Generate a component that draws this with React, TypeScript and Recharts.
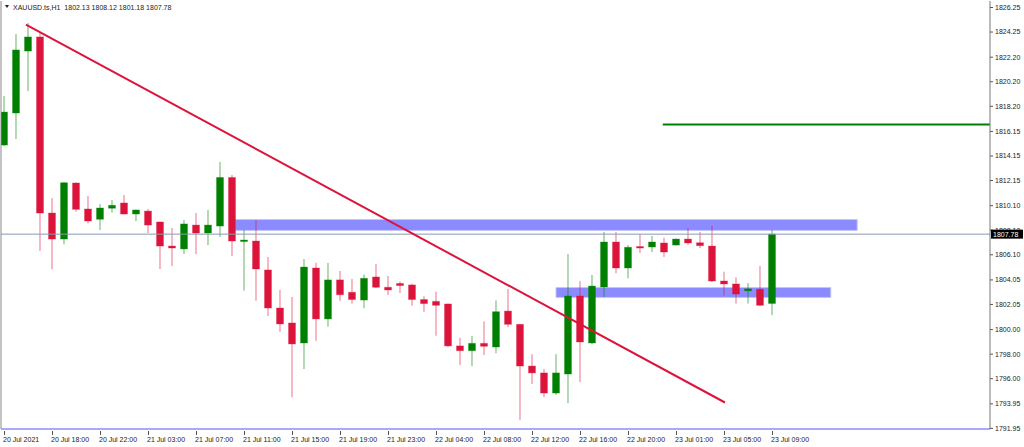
import React from "react";
import { ComposedChart, Bar, XAxis, YAxis, ReferenceLine, ReferenceArea } from "recharts";

const times = [
  "20 Jul 14:00", "20 Jul 15:00", "20 Jul 16:00", "20 Jul 17:00", "20 Jul 18:00", "20 Jul 19:00", "20 Jul 20:00", "20 Jul 21:00", "20 Jul 22:00", "20 Jul 23:00",
  "21 Jul 01:00", "21 Jul 02:00", "21 Jul 03:00", "21 Jul 04:00", "21 Jul 05:00", "21 Jul 06:00", "21 Jul 07:00", "21 Jul 08:00", "21 Jul 09:00", "21 Jul 10:00",
  "21 Jul 11:00", "21 Jul 12:00", "21 Jul 13:00", "21 Jul 14:00", "21 Jul 15:00", "21 Jul 16:00", "21 Jul 17:00", "21 Jul 18:00", "21 Jul 19:00", "21 Jul 20:00",
  "21 Jul 21:00", "21 Jul 22:00", "21 Jul 23:00", "22 Jul 01:00", "22 Jul 02:00", "22 Jul 03:00", "22 Jul 04:00", "22 Jul 05:00", "22 Jul 06:00", "22 Jul 07:00",
  "22 Jul 08:00", "22 Jul 09:00", "22 Jul 10:00", "22 Jul 11:00", "22 Jul 12:00", "22 Jul 13:00", "22 Jul 14:00", "22 Jul 15:00", "22 Jul 16:00", "22 Jul 17:00",
  "22 Jul 18:00", "22 Jul 19:00", "22 Jul 20:00", "22 Jul 21:00", "22 Jul 22:00", "22 Jul 23:00", "23 Jul 01:00", "23 Jul 02:00", "23 Jul 03:00", "23 Jul 04:00",
  "23 Jul 05:00", "23 Jul 06:00", "23 Jul 07:00", "23 Jul 08:00", "23 Jul 09:00",
];

const opens = [
  1815.04, 1817.65, 1822.70, 1823.85, 1809.50, 1807.38, 1811.95, 1809.83, 1808.99, 1809.89,
  1810.32, 1809.42, 1809.66, 1808.77, 1806.81, 1806.57, 1808.52, 1807.87, 1808.44, 1812.40,
  1807.22, 1807.22, 1804.86, 1801.76, 1800.54, 1798.91, 1805.02, 1800.87, 1804.05, 1803.04,
  1802.41, 1804.29, 1803.45, 1803.76, 1803.64, 1802.45, 1802.30, 1802.09, 1798.67, 1798.28,
  1798.88, 1798.58, 1801.51, 1800.43, 1797.03, 1796.47, 1794.83, 1796.38, 1802.74, 1798.91,
  1803.47, 1807.14, 1805.02, 1806.77, 1806.73, 1807.06, 1806.89, 1807.38, 1807.08, 1806.81,
  1803.96, 1803.72, 1803.16, 1803.28, 1802.13,
];
const highs = [
  1819.04, 1824.09, 1824.99, 1824.17, 1810.72, 1812.03, 1811.99, 1810.89, 1810.23, 1810.56,
  1810.97, 1809.79, 1809.83, 1808.81, 1808.28, 1808.93, 1809.50, 1809.75, 1813.66, 1812.60,
  1808.12, 1808.93, 1805.92, 1803.23, 1802.66, 1805.75, 1805.45, 1805.43, 1804.78, 1804.13,
  1804.50, 1805.35, 1804.37, 1803.92, 1803.74, 1802.72, 1803.09, 1802.13, 1799.34, 1799.48,
  1800.66, 1802.38, 1803.31, 1800.43, 1797.99, 1796.79, 1798.00, 1806.16, 1803.96, 1804.45,
  1807.96, 1807.96, 1806.89, 1807.79, 1807.63, 1807.49, 1807.42, 1808.28, 1807.96, 1808.44,
  1804.72, 1804.26, 1803.79, 1805.18, 1808.12,
];
const lows = [
  1814.96, 1815.53, 1819.45, 1806.41, 1804.91, 1806.95, 1809.61, 1808.66, 1808.12, 1809.53,
  1809.38, 1808.85, 1807.87, 1804.94, 1805.18, 1806.16, 1806.16, 1806.89, 1807.54, 1805.99,
  1803.17, 1802.35, 1801.11, 1799.80, 1794.49, 1796.79, 1799.09, 1800.24, 1802.35, 1802.12,
  1801.74, 1803.39, 1802.82, 1802.98, 1801.95, 1801.44, 1799.50, 1798.58, 1797.11, 1797.03,
  1797.93, 1798.07, 1800.19, 1792.64, 1795.57, 1794.50, 1794.67, 1794.01, 1795.73, 1798.83,
  1802.66, 1804.59, 1804.18, 1806.24, 1806.32, 1805.92, 1806.85, 1806.89, 1806.65, 1803.88,
  1802.77, 1802.12, 1802.12, 1801.92, 1801.18,
];
const closes = [
  1817.73, 1822.79, 1823.85, 1809.50, 1807.38, 1811.97, 1809.80, 1808.85, 1809.91, 1810.13,
  1809.42, 1809.75, 1808.52, 1806.81, 1806.65, 1808.61, 1807.87, 1808.52, 1812.40, 1807.22,
  1807.30, 1804.94, 1801.76, 1800.46, 1798.83, 1805.10, 1800.87, 1804.05, 1802.84, 1802.45,
  1804.18, 1803.45, 1803.23, 1803.59, 1802.45, 1802.12, 1801.98, 1798.67, 1798.28, 1798.88,
  1798.64, 1801.46, 1800.43, 1797.03, 1796.47, 1794.83, 1796.47, 1802.74, 1798.99, 1803.55,
  1807.14, 1805.02, 1806.71, 1806.67, 1807.14, 1806.32, 1807.38, 1807.06, 1806.84, 1803.96,
  1803.72, 1802.90, 1803.32, 1801.98, 1807.78,
];

const priceTicks = [
  1826.25, 1824.25, 1822.2, 1820.2, 1818.2, 1816.15, 1814.15, 1812.15, 1810.1,
  1808.1, 1806.1, 1804.05, 1802.05, 1800.0, 1798.0, 1796.0, 1793.95, 1791.95,
];
const xTickIndex = [0, 4, 8, 12, 16, 20, 24, 28, 32, 36, 40, 44, 48, 52, 56, 60, 64];
const xTickLabels = [
  "20 Jul 2021", "20 Jul 18:00", "20 Jul 22:00", "21 Jul 03:00", "21 Jul 07:00", "21 Jul 11:00",
  "21 Jul 15:00", "21 Jul 19:00", "21 Jul 23:00", "22 Jul 04:00", "22 Jul 08:00", "22 Jul 12:00",
  "22 Jul 16:00", "22 Jul 20:00", "23 Jul 01:00", "23 Jul 05:00", "23 Jul 09:00",
];

const symbolName = "XAUUSD.ts,H1";
const resistanceZone = { x1: 19.25, x2: 71.1, y1: 1808.08, y2: 1808.97 };
const supportZone = { x1: 46, x2: 68.9, y1: 1802.62, y2: 1803.43 };
const trendLine = [{ x: 1.83, y: 1824.86 }, { x: 60.08, y: 1794.06 }];
const targetLine = { x1: 54.9, x2: 82.16, y: 1816.71 };
const xDomain = [-0.25, 82.167];
const yDomain = [1791.9, 1826.78];

const last = closes.length - 1;
const lastPrice = closes[last];

const data = times.map((t, i) => ({
  i,
  time: t,
  open: opens[i],
  high: highs[i],
  low: lows[i],
  close: closes[i],
  range: [lows[i], highs[i]],
}));

const FONT = "'Liberation Sans', Arial, sans-serif";
const UP = "#008000";
const DOWN = "#DC143C";

const Candle = (props: any) => {
  const { x, y, width, height, payload } = props;
  if (!payload) return null;
  const { open, close, high, low } = payload;
  const up = close >= open;
  const color = up ? UP : DOWN;
  const cx = x + width / 2;
  const top0 = Math.min(y, y + height);
  const h = Math.abs(height);
  const span = high - low || 1;
  const py = (v: number) => top0 + ((high - v) / span) * h;
  const bTop = py(Math.max(open, close));
  const bBot = py(Math.min(open, close));
  const bw = 7;
  return (
    <g>
      <line x1={cx + 0.5} x2={cx + 0.5} y1={top0} y2={top0 + h} stroke={color} strokeOpacity={0.6} strokeWidth={1} />
      <rect
        x={cx - bw / 2 + 0.5}
        y={bTop}
        width={bw}
        height={Math.max(bBot - bTop, 1.5)}
        fill={color}
        stroke={color}
        strokeOpacity={0.3}
        strokeWidth={1}
      />
    </g>
  );
};

const renderXTick = (p: any) => {
  const { x, y, payload } = p;
  const idx = xTickIndex.indexOf(payload.value);
  return (
    <g>
      <line x1={Math.round(x) + 0.5} x2={Math.round(x) + 0.5} y1={y + 2} y2={y + 6} stroke="#555" strokeWidth={1} />
      <text x={x - 1} y={y + 13} fontSize={7} fontFamily={FONT} fill="#222" textAnchor="start">
        {idx >= 0 ? xTickLabels[idx] : ""}
      </text>
    </g>
  );
};

const renderYTick = (p: any) => {
  const { x, y, payload } = p;
  const v = payload.value as number;
  if (v === lastPrice) {
    return (
      <g>
        <rect x={x + 1} y={y - 4.5} width={32} height={9} fill="#000" />
        <text x={x + 3} y={y} dy="0.35em" fontSize={7} fontFamily={FONT} fill="#fff" textAnchor="start">
          {v.toFixed(2)}
        </text>
      </g>
    );
  }
  return (
    <g>
      <line x1={x} x2={x + 3} y1={y} y2={y} stroke="#555" strokeWidth={1} />
      <text x={x + 5} y={y} dy="0.35em" fontSize={7} fontFamily={FONT} fill="#222" textAnchor="start">
        {v.toFixed(2)}
      </text>
    </g>
  );
};

export default function App() {
  return (
    <div style={{ position: "absolute", left: 0, top: 0, width: 1024, height: 447, background: "#fff", overflow: "hidden" }}>
      <ComposedChart width={1024} height={447} data={data} margin={{ top: 1, right: 0, bottom: 0, left: 1 }}>
        <XAxis
          type="number"
          dataKey="i"
          domain={xDomain}
          allowDataOverflow
          ticks={xTickIndex}
          interval={0}
          tick={renderXTick}
          tickLine={false}
          tickSize={0}
          tickMargin={0}
          axisLine={{ stroke: "#8c8cff", strokeWidth: 1.5 }}
          height={18}
        />
        <YAxis
          type="number"
          orientation="right"
          domain={yDomain}
          allowDataOverflow
          ticks={[...priceTicks, lastPrice]}
          interval={0}
          tick={renderYTick}
          tickLine={false}
          tickSize={0}
          tickMargin={0}
          axisLine={{ stroke: "#777" }}
          width={34}
        />
        <ReferenceArea
          x1={resistanceZone.x1}
          x2={resistanceZone.x2}
          y1={resistanceZone.y1}
          y2={resistanceZone.y2}
          fill="#8b8bff"
          fillOpacity={1}
          stroke="#c4c4ff"
          strokeWidth={1}
        />
        <ReferenceArea
          x1={supportZone.x1}
          x2={supportZone.x2}
          y1={supportZone.y1}
          y2={supportZone.y2}
          fill="#8b8bff"
          fillOpacity={1}
          stroke="#c4c4ff"
          strokeWidth={1}
        />
        <ReferenceLine y={lastPrice} stroke="#8a9bb0" strokeWidth={1} />
        <ReferenceLine x={xDomain[0]} stroke="#888" strokeWidth={1} />
        <Bar dataKey="range" barSize={7} isAnimationActive={false} shape={(p: any) => <Candle {...p} />} />
        <ReferenceLine
          segment={[{ x: targetLine.x1, y: targetLine.y }, { x: targetLine.x2, y: targetLine.y }]}
          stroke="#008000"
          strokeWidth={2}
        />
        <ReferenceLine segment={trendLine} stroke="#DC143C" strokeWidth={2} />
      </ComposedChart>
      <svg width={200} height={14} style={{ position: "absolute", left: 0, top: 0 }}>
        <polygon points="5,5 9,5 7,8" fill="#222" />
        <text x={13} y={10} fontSize={7} fontFamily={FONT} fill="#222" style={{ whiteSpace: "pre" }}>
          {`${symbolName}  ${opens[last].toFixed(2)} ${highs[last].toFixed(2)} ${lows[last].toFixed(2)} ${closes[last].toFixed(2)}`}
        </text>
      </svg>
    </div>
  );
}
